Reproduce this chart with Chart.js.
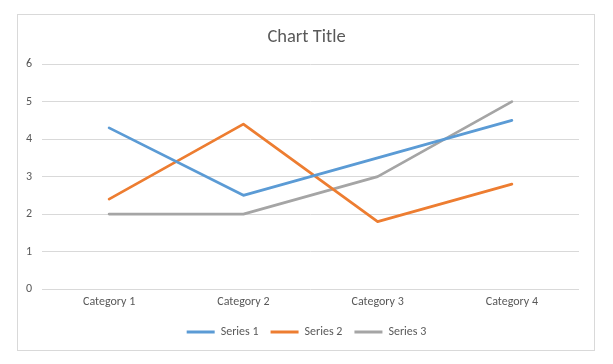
<!DOCTYPE html>
<html>
<head>
<meta charset="utf-8">
<script src="https://cdn.jsdelivr.net/npm/chart.js@4"></script>
<style>
html,body{margin:0;padding:0;background:#fff;}
#wrap{position:relative;width:613px;height:364px;}
</style>
</head>
<body>
<div id="wrap"><canvas id="c" width="613" height="364"></canvas></div>
<script>
const categories = ["Category 1", "Category 2", "Category 3", "Category 4"];
const series1 = [4.3, 2.5, 3.5, 4.5];
const series2 = [2.4, 4.4, 1.8, 2.8];
const series3 = [2, 2, 3, 5];
const seriesNames = ["Series 1", "Series 2", "Series 3"];
const yTicks = [0, 1, 2, 3, 4, 5, 6];

const FONT = "Carlito, 'Liberation Sans', Arial, sans-serif";
const TXT = "#595959";

const borderPlugin = {
  id: 'outerBorder',
  beforeDraw(chart) {
    const ctx = chart.ctx;
    ctx.save();
    ctx.fillStyle = '#fff';
    ctx.fillRect(0, 0, chart.width, chart.height);
    ctx.strokeStyle = '#d9d9d9';
    ctx.lineWidth = 1;
    ctx.strokeRect(17.5, 14.5, 577, 336);
    ctx.restore();
  }
};

new Chart(document.getElementById('c'), {
  type: 'line',
  data: {
    labels: categories,
    datasets: [
      {label: seriesNames[0], data: series1, borderColor: '#5B9BD5', backgroundColor: '#5B9BD5'},
      {label: seriesNames[1], data: series2, borderColor: '#ED7D31', backgroundColor: '#ED7D31'},
      {label: seriesNames[2], data: series3, borderColor: '#A5A5A5', backgroundColor: '#A5A5A5'}
    ].map(d => Object.assign(d, {borderWidth: 2.75, pointRadius: 0, tension: 0, fill: false, borderCapStyle: 'round', borderJoinStyle: 'round'}))
  },
  options: {
    responsive: false,
    animation: false,
    devicePixelRatio: 1,
    layout: {padding: {left: 17, right: 17, top: 0, bottom: 16}},
    plugins: {
      title: {
        display: true,
        text: 'Chart Title',
        color: TXT,
        font: {family: FONT, size: 18.5, weight: 'normal'},
        padding: {top: 26, bottom: 16}
      },
      legend: {
        position: 'bottom',
        labels: {
          color: TXT,
          font: {family: FONT, size: 12},
          boxWidth: 28,
          boxHeight: 3,
          padding: 12,
          generateLabels(chart) {
            return chart.data.datasets.map((d, i) => ({
              text: d.label, fillStyle: d.borderColor, strokeStyle: d.borderColor,
              lineWidth: 0, hidden: false, datasetIndex: i, fontColor: TXT
            }));
          }
        }
      },
      tooltip: {enabled: false}
    },
    scales: {
      x: {
        offset: true,
        afterFit(s) { s.height = 25; },
        grid: {display: false, drawTicks: false},
        border: {display: false},
        ticks: {color: TXT, font: {family: FONT, size: 12}, padding: 6}
      },
      y: {
        min: 0, max: 6,
        afterFit(s) { s.width = 25; },
        afterBuildTicks(s) { s.ticks = yTicks.map(v => ({value: v})); },
        grid: {color: '#d9d9d9', drawTicks: false, lineWidth: 1},
        border: {display: false},
        ticks: {color: TXT, font: {family: FONT, size: 12}, padding: 10}
      },
      yR: {
        position: 'right',
        display: true,
        afterFit(s) { s.width = 17; },
        grid: {display: false, drawTicks: false},
        border: {display: false},
        ticks: {display: false}
      }
    }
  },
  plugins: [borderPlugin]
});
</script>
</body>
</html>
